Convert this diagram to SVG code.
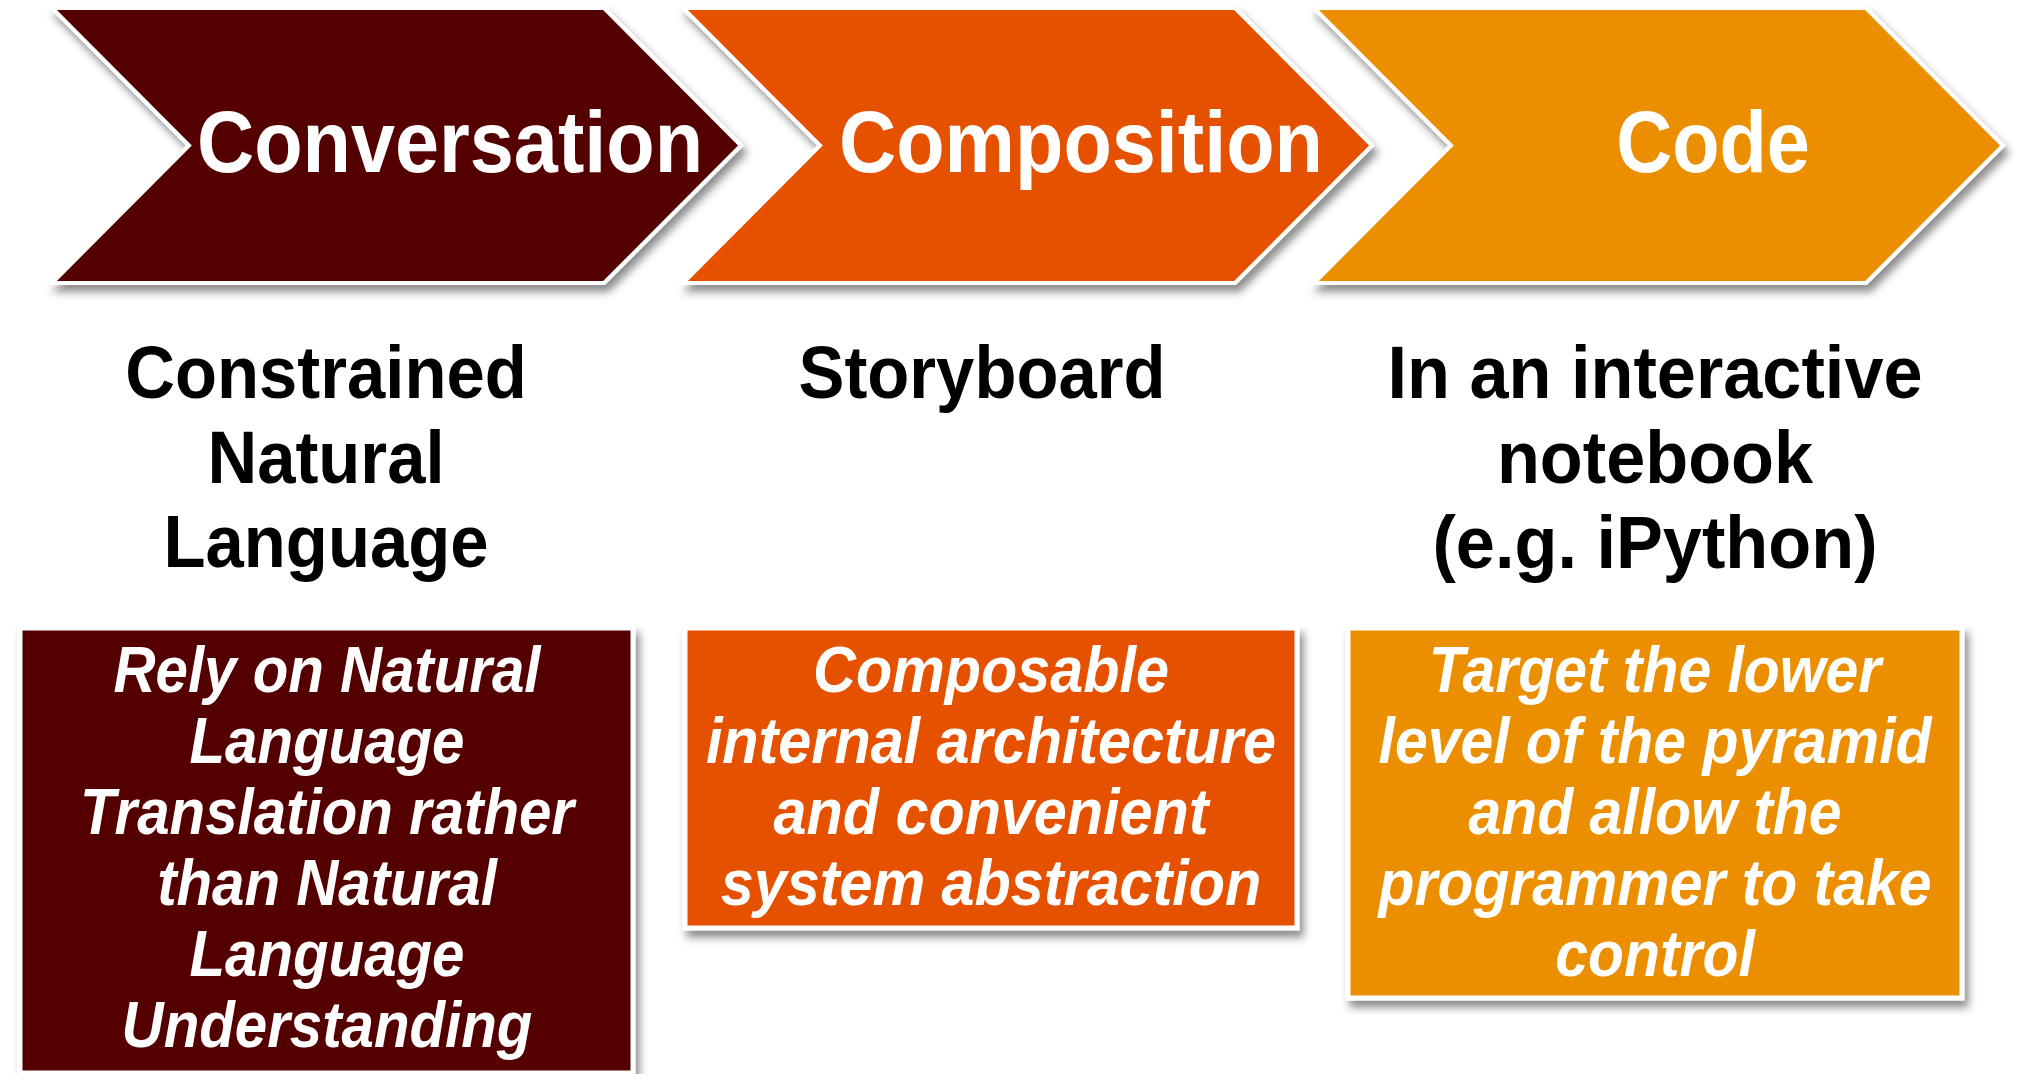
<svg xmlns="http://www.w3.org/2000/svg" width="2018" height="1074" viewBox="0 0 2018 1074">
  <defs>
    <filter id="shadow" x="-5%" y="-5%" width="115%" height="120%">
      <feDropShadow dx="4" dy="7" stdDeviation="4" flood-color="#000" flood-opacity="0.45"/>
    </filter>
    <style>
      .chev { stroke: #ffffff; stroke-width: 4; stroke-linejoin: miter; filter: url(#shadow); }
      .box { stroke: #ffffff; stroke-width: 5; filter: url(#shadow); }
      .maroon { fill: #550000; }
      .orange { fill: #e65100; }
      .amber { fill: #eb8f00; }
      .title { font-family: "Liberation Sans", Arial, sans-serif; font-weight: bold; font-size: 88px; fill: #ffffff; text-anchor: middle; }
      .sub { font-family: "Liberation Sans", Arial, sans-serif; font-weight: bold; font-size: 74px; fill: #000000; text-anchor: middle; }
      .note { font-family: "Liberation Sans", Arial, sans-serif; font-weight: bold; font-style: italic; font-size: 64px; fill: #ffffff; text-anchor: middle; }
    </style>
  </defs>
  <rect width="2018" height="1074" fill="#ffffff"/>

  <!-- Stage 1: Conversation -->
  <g id="conversation">
    <polygon class="chev maroon" points="52,8 604,8 741,145.5 604,283 52,283 189,145.5"/>
    <g transform="translate(450,0) scale(0.9,1)">
      <text class="title" x="0" y="172">Conversation</text>
    </g>
  </g>

  <!-- Stage 2: Composition -->
  <g id="composition">
    <polygon class="chev orange" points="683,8 1235,8 1372,145.5 1235,283 683,283 820,145.5"/>
    <g transform="translate(1081,0) scale(0.9,1)">
      <text class="title" x="0" y="172">Composition</text>
    </g>
  </g>

  <!-- Stage 3: Code -->
  <g id="code">
    <polygon class="chev amber" points="1314,8 1866,8 2003,145.5 1866,283 1314,283 1451,145.5"/>
    <g transform="translate(1713,0) scale(0.88,1)">
      <text class="title" x="0" y="172">Code</text>
    </g>
  </g>

  <!-- Subtitles under each stage -->
  <g id="subtitle-conversation" transform="translate(326,0) scale(0.93,1)">
    <text class="sub" x="0" y="398">Constrained</text>
    <text class="sub" x="0" y="483">Natural</text>
    <text class="sub" x="0" y="567">Language</text>
  </g>
  <g id="subtitle-composition" transform="translate(982,0) scale(0.93,1)">
    <text class="sub" x="0" y="398">Storyboard</text>
  </g>
  <g id="subtitle-code" transform="translate(1655,0) scale(0.95,1)">
    <text class="sub" x="0" y="398">In an interactive</text>
    <text class="sub" x="0" y="483">notebook</text>
    <text class="sub" x="0" y="568">(e.g. iPython)</text>
  </g>

  <!-- Description boxes -->
  <g id="box-conversation">
    <rect class="box maroon" x="20" y="628" width="613" height="445"/>
    <g transform="translate(327,0) scale(0.91,1)">
      <text class="note" x="0" y="692">Rely on Natural</text>
      <text class="note" x="0" y="763">Language</text>
      <text class="note" x="0" y="834">Translation rather</text>
      <text class="note" x="0" y="905">than Natural</text>
      <text class="note" x="0" y="976">Language</text>
      <text class="note" x="0" y="1047">Understanding</text>
    </g>
  </g>
  <g id="box-composition">
    <rect class="box orange" x="685" y="628" width="612" height="300"/>
    <g transform="translate(991,0) scale(0.927,1)">
      <text class="note" x="0" y="692">Composable</text>
      <text class="note" x="0" y="763">internal architecture</text>
      <text class="note" x="0" y="834">and convenient</text>
      <text class="note" x="0" y="905">system abstraction</text>
    </g>
  </g>
  <g id="box-code">
    <rect class="box amber" x="1348" y="628" width="614" height="370"/>
    <g transform="translate(1655,0) scale(0.92,1)">
      <text class="note" x="0" y="692">Target the lower</text>
      <text class="note" x="0" y="763">level of the pyramid</text>
      <text class="note" x="0" y="834">and allow the</text>
      <text class="note" x="0" y="905">programmer to take</text>
      <text class="note" x="0" y="976">control</text>
    </g>
  </g>

  <!-- No connectors: the chevrons themselves carry the flow -->
  <g id="connectors"/>
</svg>
